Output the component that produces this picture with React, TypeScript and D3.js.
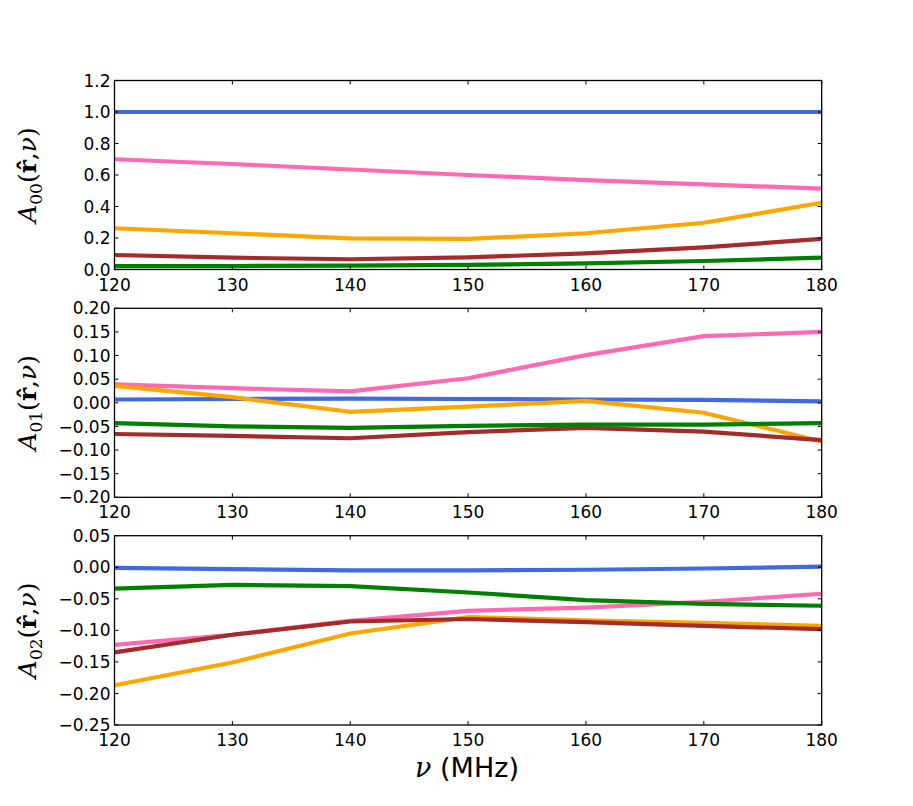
import React from 'react';
import * as d3 from 'd3';

const freqs = [120, 130, 140, 150, 160, 170, 180];

// A00
const a00Blue = [1.0, 1.0, 1.0, 1.0, 1.0, 1.0, 1.0];
const a00Pink = [0.70, 0.67, 0.635, 0.60, 0.568, 0.541, 0.513];
const a00Orange = [0.262, 0.23, 0.198, 0.194, 0.23, 0.297, 0.424];
const a00Brown = [0.092, 0.075, 0.065, 0.077, 0.103, 0.141, 0.194];
const a00Green = [0.022, 0.022, 0.025, 0.029, 0.039, 0.054, 0.075];

// A01
const a01Blue = [0.007, 0.008, 0.009, 0.008, 0.007, 0.006, 0.003];
const a01Pink = [0.039, 0.031, 0.024, 0.052, 0.101, 0.141, 0.150];
const a01Orange = [0.036, 0.012, -0.019, -0.008, 0.004, -0.021, -0.082];
const a01Brown = [-0.066, -0.07, -0.075, -0.062, -0.053, -0.061, -0.079];
const a01Green = [-0.043, -0.05, -0.053, -0.049, -0.046, -0.046, -0.043];

// A02
const a02Blue = [-0.001, -0.003, -0.005, -0.005, -0.004, -0.002, 0.001];
const a02Pink = [-0.123, -0.107, -0.085, -0.069, -0.064, -0.055, -0.042];
const a02Orange = [-0.187, -0.151, -0.105, -0.079, -0.084, -0.088, -0.093];
const a02Brown = [-0.135, -0.107, -0.086, -0.082, -0.087, -0.093, -0.098];
const a02Green = [-0.034, -0.028, -0.030, -0.040, -0.052, -0.058, -0.061];

const xTicks = [120, 130, 140, 150, 160, 170, 180];
const y0Ticks = [0.0, 0.2, 0.4, 0.6, 0.8, 1.0, 1.2];
const y1Ticks = [-0.2, -0.15, -0.1, -0.05, 0.0, 0.05, 0.1, 0.15, 0.2];
const y2Ticks = [-0.25, -0.2, -0.15, -0.1, -0.05, 0.0, 0.05];

const colors = {
  blue: '#4169E1',
  pink: '#FF69B4',
  orange: '#FFA500',
  brown: '#A52A2A',
  green: '#008000',
};

const panels = [
  {
    sub: '00', top: 80.5, bottom: 269.5, domain: [0, 1.2], ticks: y0Ticks, digits: 1,
    series: [
      { c: colors.blue, v: a00Blue }, { c: colors.pink, v: a00Pink }, { c: colors.orange, v: a00Orange },
      { c: colors.brown, v: a00Brown }, { c: colors.green, v: a00Green },
    ],
  },
  {
    sub: '01', top: 308.3, bottom: 497.3, domain: [-0.2, 0.2], ticks: y1Ticks, digits: 2,
    series: [
      { c: colors.blue, v: a01Blue }, { c: colors.pink, v: a01Pink }, { c: colors.orange, v: a01Orange },
      { c: colors.brown, v: a01Brown }, { c: colors.green, v: a01Green },
    ],
  },
  {
    sub: '02', top: 535.7, bottom: 725, domain: [-0.25, 0.05], ticks: y2Ticks, digits: 2,
    series: [
      { c: colors.blue, v: a02Blue }, { c: colors.pink, v: a02Pink }, { c: colors.orange, v: a02Orange },
      { c: colors.brown, v: a02Brown }, { c: colors.green, v: a02Green },
    ],
  },
];

const left = 114.5;
const right = 821.7;
const tickFont = '"DejaVu Sans", sans-serif';
const mathFont = '"DejaVu Serif", "Liberation Serif", serif';

const fmt = (v: number, digits: number) => {
  const s = Math.abs(v).toFixed(digits);
  return (v < -1e-9 ? '\u2212' : '') + s;
};

function Panel({ p }: { p: typeof panels[number] }) {
  const x = d3.scaleLinear().domain([120, 180]).range([left, right]);
  const y = d3.scaleLinear().domain(p.domain).range([p.bottom, p.top]);
  const line = d3.line<number>().x((_, i) => x(freqs[i])).y(d => y(d));
  const midY = (p.top + p.bottom) / 2;
  return (
    <g>
      <defs>
        <clipPath id={`clip${p.sub}`}>
          <rect x={left} y={p.top} width={right - left} height={p.bottom - p.top} />
        </clipPath>
      </defs>
      <g clipPath={`url(#clip${p.sub})`}>
        {p.series.map((s, i) => (
          <path key={i} d={line(s.v) || ''} fill="none" stroke={s.c} strokeWidth={4.2} strokeLinejoin="round" />
        ))}
      </g>
      <rect x={left} y={p.top} width={right - left} height={p.bottom - p.top} fill="none" stroke="#000" strokeWidth={1.3} />
      {xTicks.map(t => (
        <g key={t}>
          <line x1={x(t)} x2={x(t)} y1={p.bottom} y2={p.bottom - 4} stroke="#000" />
          <line x1={x(t)} x2={x(t)} y1={p.top} y2={p.top + 4} stroke="#000" />
          <text x={x(t)} y={p.bottom + 21} textAnchor="middle" fontFamily={tickFont} fontSize={17}>{t}</text>
        </g>
      ))}
      {p.ticks.map(t => (
        <g key={t}>
          <line x1={left} x2={left + 4} y1={y(t)} y2={y(t)} stroke="#000" />
          <line x1={right} x2={right - 4} y1={y(t)} y2={y(t)} stroke="#000" />
          <text x={left - 4} y={y(t)} dy="0.36em" textAnchor="end" fontFamily={tickFont} fontSize={17}>{fmt(t, p.digits)}</text>
        </g>
      ))}
      <text transform={`translate(36,${midY}) rotate(-90)`} textAnchor="middle" fontFamily={mathFont} fontSize={25}>
        <tspan fontStyle="italic">A</tspan>
        <tspan fontSize={17} dy={6}>{p.sub}</tspan>
        <tspan dy={-6}>(</tspan>
        <tspan fontWeight="bold">{'r\u0302'}</tspan>
        <tspan>,</tspan>
        <tspan fontStyle="italic">{'\u03BD'}</tspan>
        <tspan>)</tspan>
      </text>
    </g>
  );
}

export default function App() {
  return (
    <div style={{ position: 'absolute', left: 0, top: 0 }}>
      <svg width={913} height={806} style={{ display: 'block', background: '#fff' }}>
        {panels.map(p => <Panel key={p.sub} p={p} />)}
        <text x={467} y={777} textAnchor="middle" fontSize={27}>
          <tspan fontFamily={mathFont} fontStyle="italic">{'\u03BD'}</tspan>
          <tspan fontFamily={tickFont}> (MHz)</tspan>
        </text>
      </svg>
    </div>
  );
}
